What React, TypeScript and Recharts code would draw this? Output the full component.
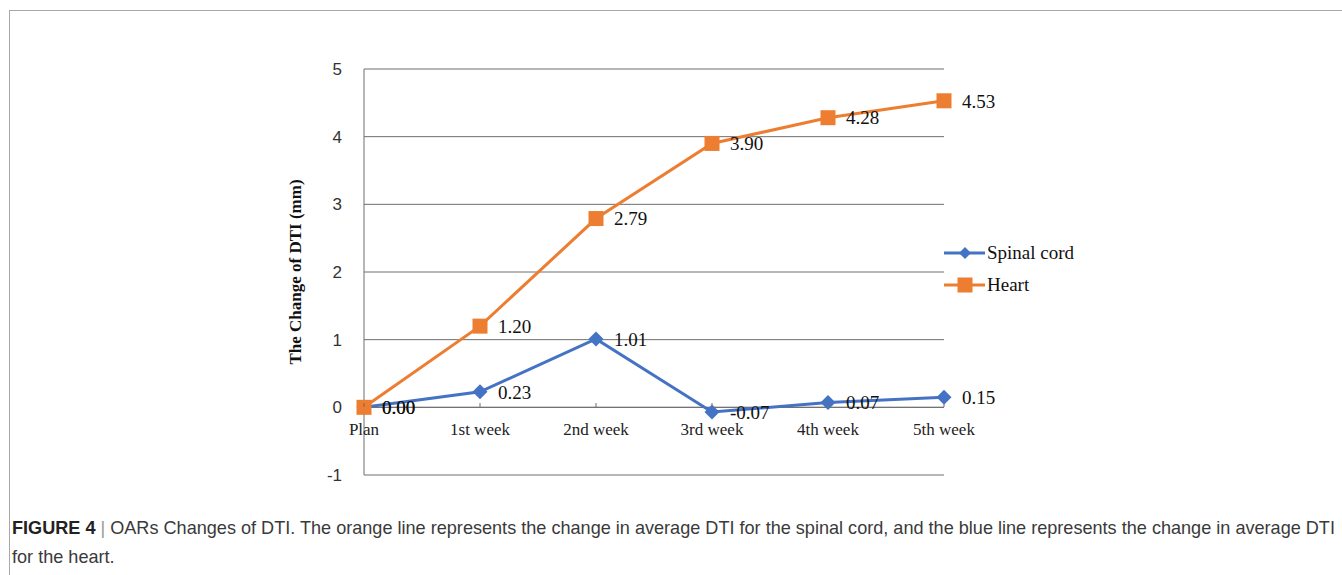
import { LineChart, Line, XAxis, YAxis, CartesianGrid, ReferenceLine, LabelList, Legend } from "recharts";

const categories = ["Plan", "1st week", "2nd week", "3rd week", "4th week", "5th week"];
const spinalCord = [0.0, 0.23, 1.01, -0.07, 0.07, 0.15];
const heart = [0.0, 1.2, 2.79, 3.9, 4.28, 4.53];
const yTicks = [-1, 0, 1, 2, 3, 4, 5];
const seriesOrder = ["spinal", "heart"];

const data = categories.map((name, i) => ({ name, spinal: spinalCord[i], heart: heart[i] }));

const BLUE = "#4472C4";
const ORANGE = "#ED7D31";
const GRID = "#6e6e6e";
const SERIF = '"Liberation Serif", "Times New Roman", serif';
const SANS = '"Liberation Sans", Arial, sans-serif';

function Diamond({ cx, cy, fill, r = 7.5 }: any) {
  return <path d={`M${cx},${cy - r}L${cx + r},${cy}L${cx},${cy + r}L${cx - r},${cy}Z`} fill={fill} />;
}

function Square({ cx, cy, fill, s = 15 }: any) {
  return <rect x={cx - s / 2} y={cy - s / 2} width={s} height={s} fill={fill} />;
}

function CategoryTick({ x, y, payload }: any) {
  // axis crosses at 0, so labels sit inside the plot above the -1 gridline
  return (
    <g>
      <line x1={x} x2={x} y1={y - 72} y2={y - 68} stroke={GRID} />
      <text x={x} y={y - 46} textAnchor="middle" dominantBaseline="central" fontFamily={SERIF} fontSize={17} fill="#222">
        {payload.value}
      </text>
    </g>
  );
}

function YTitle({ viewBox }: any) {
  const cx = viewBox.x + 11;
  const cy = viewBox.y + viewBox.height / 2;
  return (
    <text x={cx} y={cy} transform={`rotate(-90 ${cx} ${cy})`} textAnchor="middle" dominantBaseline="central"
      fontFamily={SERIF} fontWeight="bold" fontSize={17} fill="#111">
      The Change of DTI (mm)
    </text>
  );
}

function LegendContent({ payload }: any) {
  const items = [...(payload || [])].sort(
    (a: any, b: any) => seriesOrder.indexOf(a.dataKey) - seriesOrder.indexOf(b.dataKey)
  );
  return (
    <div>
      {items.map((p: any) => (
        <div key={p.value} style={{ display: "flex", alignItems: "center", height: 32 }}>
          <svg width={42} height={20}>
            <line x1={0} x2={41} y1={10} y2={10} stroke={p.color} strokeWidth={3} />
            {p.dataKey === "heart"
              ? <Square cx={21} cy={10} fill={p.color} s={15} />
              : <Diamond cx={21} cy={10} fill={p.color} r={6} />}
          </svg>
          <span style={{ fontFamily: SERIF, fontSize: 19, color: "#111", marginLeft: 1 }}>{p.value}</span>
        </div>
      ))}
    </div>
  );
}

const fmt = (v: any) => Number(v).toFixed(2);
const labelStyle = { fontFamily: SERIF, fontSize: 19, fill: "#111" };

export default function App() {
  return (
    <div style={{ position: "absolute", left: 0, top: 0, width: 1342, height: 575, background: "#fff", overflow: "hidden" }}>
      <div style={{ position: "absolute", left: 9, top: 10, width: 1400, height: 620, border: "1px solid #a8a8a8" }} />

      <div style={{ position: "absolute", left: 0, top: 0 }}>
        <LineChart width={1342} height={505} data={data} margin={{ top: 69, right: 398, bottom: 0, left: 284 }}>
          <CartesianGrid vertical={false} stroke={GRID} strokeWidth={1} />
          <XAxis dataKey="name" height={30} axisLine={false} tickLine={false} tickSize={0} tickMargin={0}
            tick={<CategoryTick />} interval={0} />
          <YAxis width={80} domain={[-1, 5]} ticks={yTicks} tickSize={0} tickMargin={22} tickLine={false}
            axisLine={{ stroke: GRID }} tick={{ fontFamily: SANS, fontSize: 17, fill: "#333" }}
            label={<YTitle />} />
          <ReferenceLine y={0} stroke={GRID} />
          <Legend layout="vertical" align="center" verticalAlign="middle" content={<LegendContent />}
            wrapperStyle={{ left: 944, top: 237, width: 200 }} />
          <Line type="linear" dataKey="spinal" name="Spinal cord" stroke={BLUE} strokeWidth={3}
            isAnimationActive={false}
            dot={(p: any) => <Diamond key={`s${p.index}`} cx={p.cx} cy={p.cy} fill={BLUE} />}
            activeDot={false}>
            <LabelList dataKey="spinal" position="right" offset={18} formatter={fmt} style={labelStyle} />
          </Line>
          <Line type="linear" dataKey="heart" name="Heart" stroke={ORANGE} strokeWidth={3}
            isAnimationActive={false}
            dot={(p: any) => <Square key={`h${p.index}`} cx={p.cx} cy={p.cy} fill={ORANGE} />}
            activeDot={false}>
            <LabelList dataKey="heart" position="right" offset={18} formatter={fmt} style={labelStyle} />
          </Line>
        </LineChart>
      </div>

      <div style={{ position: "absolute", left: 12, top: 514, width: 1340, fontFamily: SANS, fontSize: 18.1,
        lineHeight: "29px", color: "#3a3a3a", whiteSpace: "nowrap" }}>
        <b style={{ color: "#222" }}>FIGURE 4</b> <span style={{ color: "#999" }}>|</span> OARs Changes of DTI. The orange line represents the change in average DTI for the spinal cord, and the blue line represents the change in average DTI
        <br />
        for the heart.
      </div>
    </div>
  );
}
